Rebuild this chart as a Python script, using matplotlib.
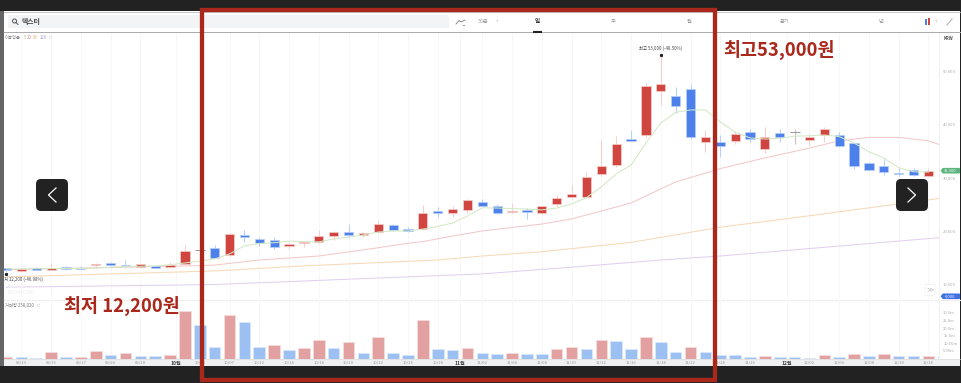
import numpy as np
import matplotlib
matplotlib.use('Agg')
import matplotlib.pyplot as plt
from matplotlib.patches import FancyBboxPatch, Rectangle, Circle, Polygon

plt.rcParams['font.family'] = ['Noto Sans CJK KR', 'DejaVu Sans']
plt.rcParams['axes.unicode_minus'] = False

# 일봉 데이터
opens = [12950, 12450, 13050, 12650, 13200, 13000, 13500, 14000, 13600, 13250, 13300, 13150, 13800, 16400, 16800, 15400,
         19200, 18500, 18200, 17200, 17700, 17950, 19000, 19800, 19200, 19750, 21050, 20300, 20300, 23650, 23400, 23950,
         25450, 24550, 23450, 23950, 23250, 24950, 26400, 26300, 30650, 32250, 37200, 37950, 46200, 45300, 46650, 36600,
         36700, 36850, 38550, 35250, 38350, 38450, 36950, 37950, 37950, 36450, 32750, 32100, 30750, 31400, 30250]
closes = [12650, 12850, 12650, 13050, 12750, 12850, 13700, 13500, 13300, 13700, 13050, 13550, 16200, 16400, 14950, 19400,
          18900, 17650, 16900, 17450, 17950, 19050, 19800, 19150, 19500, 21200, 20150, 20000, 23300, 23400, 24050, 25800,
          24700, 23250, 23700, 23450, 24550, 26150, 26900, 30150, 32200, 36200, 36800, 47150, 47550, 43450, 37600, 37500,
          35900, 38100, 37150, 37500, 37500, 38450, 37500, 39150, 35900, 32150, 31450, 30950, 30600, 30450, 31150]
highs = [13000, 12900, 13100, 14000, 13450, 13400, 13900, 14050, 14450, 13750, 13350, 14050, 17300, 16450, 17300, 19550,
         20150, 18800, 18750, 17650, 18150, 20150, 19950, 21250, 19800, 21750, 21300, 20700, 24900, 24400, 24650, 25900,
         25900, 25000, 25250, 24300, 24650, 26650, 28550, 30950, 37000, 37750, 38900, 47650, 53000, 46900, 47450, 38900,
         37950, 38700, 39000, 39400, 39000, 39050, 38150, 39400, 38450, 36500, 32800, 33400, 31700, 31800, 31700]
lows = [12200, 12400, 12600, 12600, 12700, 12850, 13150, 13450, 13250, 13200, 12950, 13100, 13750, 16350, 14850, 15300,
        17950, 17150, 16500, 16550, 17000, 17750, 18250, 18900, 18750, 19600, 19950, 19700, 20250, 22600, 22600, 23250,
        24650, 23200, 23400, 22150, 23100, 24500, 26100, 26200, 30250, 32000, 36800, 37450, 43500, 42150, 37150, 34800,
        33750, 36200, 36700, 34500, 36700, 36250, 36100, 36700, 35750, 31500, 31400, 30450, 30250, 30300, 30150]

volumes = [1.0, 0.8, 0.5, 4.3, 0.8, 1.0, 4.7, 2.1, 3.6, 1.6, 1.45, 2.3, 31.5, 21.8, 7.4, 28.6,
           24.0, 7.6, 8.7, 5.6, 6.9, 12.4, 6.9, 10.9, 3.6, 13.9, 3.4, 2.1, 25.5, 6.05, 5.4, 6.7,
           3.4, 3.2, 3.8, 3.2, 3.0, 6.25, 7.4, 6.45, 12.4, 11.5, 6.25, 13.9, 10.85, 4.1, 7.75, 4.3,
           2.5, 2.3, 1.2, 1.6, 0.8, 0.75, 0.5, 2.3, 1.2, 3.0, 1.6, 3.0, 1.6, 1.45, 1.6, 1.4]

# 이동평균선
ma5_x = list(range(0, 63))
ma5 = [12800, 12830, 12860, 12880, 12900, 12910, 13000, 13150, 13280, 13330, 13380, 13600, 13950, 14300, 14700, 15650,
       17150, 17600, 17750, 18050, 17950, 17900, 18450, 18800, 19200, 19750, 19950, 19950, 20300, 20800, 21450, 22750,
       24300, 24250, 24150, 24050, 23900, 24250, 25000, 26200, 28200, 30650, 32300, 36450, 40200, 42200, 42650, 42650,
       40400, 38500, 37400, 37200, 37300, 37750, 37800, 37950, 37650, 36450, 34800, 33650, 31800, 31050, 31000]
ma20_x = [0, 7, 13, 14, 17, 21, 25, 27, 28, 30, 32, 36, 38, 40, 42, 45, 47, 48, 51, 54, 56, 58, 60, 62, 63]
ma20 = [12700, 13100, 13450, 13550, 14500, 15250, 16800, 17650, 17950, 19000, 19950, 21250, 22200, 23700, 25200, 29150,
        30800, 31650, 33650, 35500, 36850, 37500, 37500, 36850, 35900]
ma60_x = [0, 6, 14, 20, 29, 32, 36, 42, 48, 54, 63]
ma60 = [11350, 11800, 12450, 13400, 14500, 15250, 16050, 17800, 20650, 22800, 26150]
ma120_x = [0, 14, 32, 38, 44, 48, 63]
ma120 = [9400, 9900, 11900, 13150, 14500, 15250, 18750]

# x축 라벨
tick_pos = [1, 3, 5, 7, 9, 11.4, 13, 15, 17, 19, 21, 23, 25, 27, 29, 30.5, 32, 34, 36, 38, 40, 42, 44, 46, 48, 50, 52.5,
            54, 56, 58, 60, 62]
tick_labels = ['09/13', '09/15', '09/17', '09/24', '09/28', '10월', '10/05', '10/07', '10/12', '10/14', '10/18', '10/20',
               '10/22', '10/26', '10/28', '11월', '11/02', '11/04', '11/08', '11/10', '11/12', '11/16', '11/18', '11/22',
               '11/24', '11/26', '12월', '12/02', '12/06', '12/08', '12/10', '12/14']
price_ticks = [10000, 20000, 30000, 40000, 50000]
price_labels = ['10,000', '20,000', '30,000', '40,000', '50,000']
vol_ticks = [5, 10, 15, 20, 25, 30]
vol_labels = ['5.00m', '10.00m', '15.0m', '20.0m', '25.0m', '30.0m']

W, H = 962, 383
RED, BLUE = '#d0453f', '#4d80ea'
BOX = '#a9271b'


def rect_axes(x0, y0, x1, y1, **kw):
    return fig.add_axes([x0 / W, 1 - y1 / H, (x1 - x0) / W, (y1 - y0) / H], **kw)


fig = plt.figure(figsize=(W / 100, H / 100), dpi=100, facecolor='#222222')

# 차트 바탕, 상단바 같은 화면 요소는 픽셀 좌표로
bg = rect_axes(0, 0, W, H, zorder=0)
bg.set_xlim(0, W)
bg.set_ylim(H, 0)
bg.axis('off')
bg.add_patch(Rectangle((0, 11), 4, 355, color='#666666', lw=0))
bg.add_patch(Rectangle((4, 11), 956, 348, color='white', lw=0))
bg.add_patch(Rectangle((4, 359), 956, 7, color='#eef0f1', lw=0))
bg.plot([4, 960], [11.5, 11.5], color='#bbbbbb', lw=0.6)
bg.plot([4, 960], [32.3, 32.3], color='#aaaaaa', lw=0.7)
bg.plot([4, 960], [299.5, 299.5], color='#eeeeee', lw=0.8)
bg.plot([4, 960], [359, 359], color='#dddddd', lw=0.5)
bg.plot([939, 939], [33, 359], color='#efefef', lw=0.6)
bg.add_patch(Rectangle((8, 15), 441, 13, color='#f3f4f6', lw=0))

idx = np.arange(len(opens))
o, c, h, l = map(np.array, (opens, closes, highs, lows))
xlim = ((4 - 6.5) / 14.87, (939 - 6.5) / 14.87)

# 가격 차트
ax = rect_axes(4, 33, 939, 299, zorder=1)
ax.patch.set_alpha(0)
for s in ax.spines.values():
    s.set_visible(False)
ax.set_xlim(*xlim)
ax.set_ylim(63278 - 187.6 * 299, 63278 - 187.6 * 33)
ax.set_xticks(tick_pos)
ax.set_xticklabels([])
ax.tick_params(axis='x', length=0)
ax.grid(axis='x', color='#f6f6f6', lw=0.6)
ax.set_axisbelow(True)
ax.yaxis.tick_right()
ax.set_yticks(price_ticks)
ax.set_yticklabels(price_labels, fontsize=3, color='#aaaaaa')
ax.tick_params(axis='y', length=0, pad=3)

ax.plot(ma120_x, ma120, color='#e0d0f0', lw=0.75)
ax.plot(ma60_x, ma60, color='#f6d9b8', lw=0.75)
ax.plot(ma20_x, ma20, color='#f2c9c9', lw=0.75)
ax.plot(ma5_x, ma5, color='#d3e9c5', lw=0.75, zorder=4)

up = c > o
down = c < o
doji = c == o
for mask, col, pale in [(up, RED, '#f5d0ce'), (down, BLUE, '#b9d0f7')]:
    ax.vlines(idx[mask], l[mask], h[mask], color=pale, lw=0.8, zorder=2)
    ax.bar(idx[mask], np.abs(c - o)[mask], bottom=np.minimum(o, c)[mask], width=0.62, color=col,
           edgecolor=pale, lw=0.5, zorder=3)
ax.vlines(idx[doji], l[doji], h[doji], color='#c4c4c4', lw=0.8, zorder=2)
ax.hlines(c[doji], idx[doji] - 0.33, idx[doji] + 0.33, color='#999999', lw=0.7, zorder=3)

# 최고, 최저 표시
hi_i = int(np.argmax(h))
lo_i = int(np.argmin(l))
ax.plot(hi_i, h[hi_i] - 100, 's', color='#222222', ms=1.2, zorder=5)
ax.plot(lo_i, l[lo_i] - 300, 's', color='#222222', ms=1.2, zorder=5)
ax.annotate('최고 53,000 (-48.50%)', (hi_i, h[hi_i]), xytext=(0, 3), textcoords='offset points', ha='center',
            va='bottom', fontsize=3.1, color='#444444')
ax.annotate('최저 12,200 (-46.98%)', (lo_i, l[lo_i]), xytext=(26.5, -5.3), textcoords='offset points', ha='right',
            va='center', fontsize=3.1, color='#444444', annotation_clip=False, clip_on=True)

# 거래량
vx = rect_axes(4, 300, 939, 359, zorder=1)
vx.patch.set_alpha(0)
for s in vx.spines.values():
    s.set_visible(False)
vx.set_xlim(*xlim)
vx.set_ylim(-0.3, 38.5)
vx.grid(axis='x', color='#f6f6f6', lw=0.6)
vx.set_axisbelow(True)
v = np.array(volumes)
vol_idx = np.arange(len(v))
rising = np.r_[True, v[1:] >= v[:-1]]
vx.bar(vol_idx[rising], v[rising], width=0.78, color='#e3a0a0', edgecolor='#f6dede', lw=0.5)
vx.bar(vol_idx[~rising], v[~rising], width=0.78, color='#9dc0f3', edgecolor='#dce8fb', lw=0.5)
vx.axhline(0, color='#8fa8cc', lw=0.5)
vx.set_xticks(tick_pos)
vx.set_xticklabels(tick_labels, fontsize=3, color='#999999')
for t, lab in zip(vx.get_xticklabels(), tick_labels):
    if lab.endswith('월'):
        t.set_color('#444444')
        t.set_fontweight('bold')
        t.set_fontsize(3.6)
vx.tick_params(axis='x', length=0, pad=1.2)
vx.yaxis.tick_right()
vx.set_yticks(vol_ticks)
vx.set_yticklabels(vol_labels, fontsize=2.9, color='#aaaaaa')
vx.tick_params(axis='y', length=0, pad=3)

# 위에 얹는 요소들
top = rect_axes(0, 0, W, H, zorder=5)
top.patch.set_alpha(0)
top.set_xlim(0, W)
top.set_ylim(H, 0)
top.axis('off')

top.add_patch(Circle((14.5, 21), 2, fill=False, ec='#555555', lw=0.7))
top.plot([16, 18], [22.5, 24.5], color='#555555', lw=0.7)
top.text(22, 21.5, '덱스터', fontsize=4.9, fontweight='bold', color='#444444', va='center')

top.plot([456, 459, 461, 465], [24, 20.5, 22, 20], color='#777777', lw=0.6)
top.plot([463.5, 464.5], [24.5, 24.5], color='#777777', lw=0.6)
top.text(483, 21.5, '30분', fontsize=3.8, color='#999999', ha='center', va='center')
top.text(497, 21.5, '∨', fontsize=2.6, color='#aaaaaa', ha='center', va='center', family='DejaVu Sans')
top.text(537.5, 21.5, '일', fontsize=4, color='#333333', ha='center', va='center', fontweight='bold')
top.plot([533, 542], [31.7, 31.7], color='#222222', lw=1.5, solid_capstyle='butt')
for tx, name in [(613, '주'), (689, '월'), (785, '분기'), (881, '년')]:
    top.text(tx, 21.5, name, fontsize=3.8, color='#999999', ha='center', va='center')
top.add_patch(Rectangle((925, 19), 2, 6, color='#4d80ea', lw=0))
top.add_patch(Rectangle((928, 18), 2, 7, color='#d0453f', lw=0))
top.text(936, 21.5, '∨', fontsize=2.6, color='#aaaaaa', ha='center', va='center', family='DejaVu Sans')
top.plot([947, 952], [25, 19], color='#bbbbbb', lw=0.9)
top.text(948, 39, 'KRW', fontsize=3.1, color='#555555', fontweight='bold', ha='center', va='center')

# 이동평균 범례
top.text(5, 37.5, '이동평균', fontsize=3.1, color='#888888', va='center')
for lx, lab, col in [(24, '5', '#9ccf7a'), (27, '20', '#ee8888'), (33, '60', '#eeb36e'), (39.5, '120', '#b79be0')]:
    top.text(lx, 37.5, lab, fontsize=3.1, color=col, va='center')
top.text(5, 305.5, '거래량 258,020', fontsize=3.1, color='#777777', va='center')
top.add_patch(Circle((50.5, 37.5), 1.4, fill=False, ec='#dddddd', lw=0.4))
top.add_patch(Circle((38.5, 305.5), 1.4, fill=False, ec='#dddddd', lw=0.4))
top.text(8, 286, 'NAVER', fontsize=3.6, fontweight='bold', color='#f3f3f3', va='center')
top.text(8, 292, 'FINANCIAL', fontsize=3.6, fontweight='bold', color='#f3f3f3', va='center')

# 좌우 이동 버튼
for bx, pts in [(36, [(56, 188), (48.5, 195), (56, 202)]), (896, [(908, 188), (915.5, 195), (908, 202)])]:
    top.add_patch(FancyBboxPatch((bx, 179), 32, 32, boxstyle='round,pad=0,rounding_size=5', fc='#222222', lw=0))
    top.plot(*zip(*pts), color='white', lw=0.9)

top.add_patch(FancyBboxPatch((925, 284.5), 10, 11, boxstyle='round,pad=0,rounding_size=1.5', fc='white',
                             ec='#eeeeee', lw=0.5))
top.text(930, 290, '≫', fontsize=5, color='#bbbbbb', ha='center', va='center', family='DejaVu Sans')

# 현재가, 거래량 태그
for ty, col, lab in [(170.7, '#5db37e', '31,300'), (296.3, '#3f72e0', '6,000')]:
    top.add_patch(FancyBboxPatch((942.5, ty - 2.8), 17.5, 5.6, boxstyle='round,pad=0,rounding_size=1', fc=col, lw=0))
    top.add_patch(Polygon([(940.5, ty), (943, ty - 2.8), (943, ty + 2.8)], color=col, lw=0))
    top.text(950, ty, lab, fontsize=2.9, color='white', ha='center', va='center')

# 붉은 박스와 설명 글씨
top.add_patch(Rectangle((201.7, 10.3), 513.3, 369.2, fill=False, ec=BOX, lw=3.1, joinstyle='miter'))
top.text(723, 50, '최고53,000원', fontsize=13.3, fontweight='bold', color=BOX, va='center')
top.text(64, 305.5, '최저 12,200원', fontsize=13.3, fontweight='bold', color=BOX, va='center')

fig.savefig('out.png', dpi=100, facecolor=fig.get_facecolor())
